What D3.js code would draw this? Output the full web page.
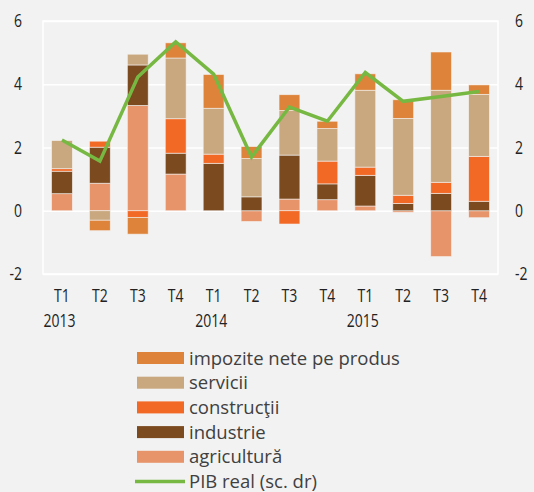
<!DOCTYPE html>
<meta charset="utf-8">
<style>
body { margin: 0; background: #f2f2f2; }
svg { display: block; }
.axis text { font-family: "Open Sans", sans-serif; font-size: 17.5px; fill: #222; }
.axis path, .axis line { display: none; }
.grid line { stroke: #fff; stroke-width: 1.5; }
.grid path { display: none; }
.legend text { font-family: "Open Sans", sans-serif; font-size: 18.5px; fill: #404040; }
</style>
<body>
<script src="https://d3js.org/d3.v7.min.js"></script>
<script>

var quarters = ["T1","T2","T3","T4","T1","T2","T3","T4","T1","T2","T3","T4"];
var years = ["2013","2014","2015"];

// contributions, pp
var agricultura = [0.54, 0.87, 3.33, 1.16, 0.00, -0.34, 0.37, 0.35, 0.15, -0.05, -1.45, -0.22];
var industrie   = [0.71, 1.14, 1.28, 0.66, 1.50, 0.44, 1.39, 0.50, 0.97, 0.23, 0.55, 0.30];
var constructii = [0.08, 0.19, -0.21, 1.09, 0.29, 0.00, -0.42, 0.72, 0.26, 0.26, 0.35, 1.42];
var servicii    = [0.89, -0.30, 0.34, 1.92, 1.45, 1.21, 1.41, 1.03, 2.43, 2.43, 2.91, 1.96];
var impozite    = [0.00, -0.33, -0.53, 0.48, 1.07, 0.38, 0.50, 0.23, 0.52, 0.59, 1.21, 0.30];
var pibReal     = [2.24, 1.57, 4.23, 5.34, 4.32, 1.70, 3.28, 2.83, 4.37, 3.46, 3.61, 3.77];

var yTicks = [-2, 0, 2, 4, 6];

var keys = ["agricultura", "industrie", "constructii", "servicii", "impozite"];
var colors = {
  agricultura: "#e8946a",
  industrie: "#7b4a1f",
  constructii: "#f26925",
  servicii: "#c9a77f",
  impozite: "#dd843a"
};
var legendItems = [
  {key: "impozite", label: "impozite nete pe produs"},
  {key: "servicii", label: "servicii"},
  {key: "constructii", label: "construcţii"},
  {key: "industrie", label: "industrie"},
  {key: "agricultura", label: "agricultură"}
];

var W = 534, H = 492;
var plot = {left: 43, right: 498, top: 21, bottom: 274};
var narrow = "scale(0.8,1)";   // condensed look for axis labels

var rows = quarters.map(function(q, i) {
  return {i: i, agricultura: agricultura[i], industrie: industrie[i],
    constructii: constructii[i], servicii: servicii[i], impozite: impozite[i]};
});

var svg = d3.select("body").append("svg")
    .attr("width", W)
    .attr("height", H);

var x = d3.scaleBand()
    .domain(d3.range(quarters.length))
    .range([plot.left, plot.right])
    .paddingInner(0.45)
    .paddingOuter(0.225);

var y = d3.scaleLinear()
    .domain([-2, 6])
    .range([plot.bottom, plot.top]);

// frame + gridlines
svg.append("rect")
    .attr("x", plot.left).attr("y", plot.top)
    .attr("width", plot.right - plot.left)
    .attr("height", plot.bottom - plot.top)
    .attr("fill", "none")
    .attr("stroke", "#fff")
    .attr("stroke-width", 1.5);

svg.append("g")
    .attr("class", "grid")
    .attr("transform", "translate(" + plot.left + ",0)")
    .call(d3.axisLeft(y).tickValues(yTicks).tickSize(-(plot.right - plot.left)).tickFormat(""));

var fmt = function(d) { return String(d); };

svg.append("g")
    .attr("class", "axis")
    .attr("transform", "translate(" + (plot.left - 21) + ",0)")
    .call(d3.axisLeft(y).tickValues(yTicks).tickSize(0).tickPadding(0).tickFormat(fmt))
  .selectAll("text")
    .attr("transform", narrow);

svg.append("g")
    .attr("class", "axis")
    .attr("transform", "translate(" + (plot.right + 17) + ",0)")
    .call(d3.axisRight(y).tickValues(yTicks).tickSize(0).tickPadding(0).tickFormat(fmt))
  .selectAll("text")
    .attr("transform", narrow);

// stacked bars
var series = d3.stack().keys(keys).offset(d3.stackOffsetDiverging)(rows);

svg.append("g")
  .selectAll("g")
  .data(series)
  .join("g")
    .attr("fill", function(d) { return colors[d.key]; })
  .selectAll("rect")
  .data(function(d) { return d.filter(function(p) { return p[1] !== p[0]; }); })
  .join("rect")
    .attr("x", function(d) { return x(d.data.i); })
    .attr("width", x.bandwidth())
    .attr("y", function(d) { return y(d[1]); })
    .attr("height", function(d) { return y(d[0]) - y(d[1]); })
    .attr("stroke", "#f7f7f7")
    .attr("stroke-opacity", 0.7)
    .attr("stroke-width", 0.8);

// PIB real line
var line = d3.line()
    .x(function(d, i) { return x(i) + x.bandwidth() / 2; })
    .y(function(d) { return y(d); });

svg.append("path")
    .datum(pibReal)
    .attr("d", line)
    .attr("fill", "none")
    .attr("stroke", "#77b843")
    .attr("stroke-width", 3.5)
    .attr("stroke-linejoin", "miter");

// x labels
var xl = svg.append("g").attr("class", "axis");
xl.selectAll(".q")
  .data(quarters)
  .join("g")
    .attr("class", "q")
    .attr("transform", function(d, i) { return "translate(" + (x(i) + x.bandwidth() / 2) + ",302)"; })
  .append("text")
    .attr("text-anchor", "middle")
    .attr("transform", narrow)
    .text(function(d) { return d; });

xl.selectAll(".yr")
  .data(years)
  .join("g")
    .attr("class", "yr")
    .attr("transform", function(d, i) { return "translate(" + (x(i * 4) - 8) + ",327)"; })
  .append("text")
    .attr("transform", narrow)
    .text(function(d) { return d; });

// legend
var lg = svg.append("g").attr("class", "legend");
var rowY = d3.scaleLinear().domain([0, 5]).range([358, 481.5]);

legendItems.forEach(function(item, i) {
  lg.append("rect")
      .attr("x", 137).attr("y", rowY(i) - 6)
      .attr("width", 47).attr("height", 12)
      .attr("fill", colors[item.key]);
  lg.append("text")
      .attr("x", 189).attr("y", rowY(i) + 6.5)
      .text(item.label);
});
lg.append("line")
    .attr("x1", 135).attr("x2", 185)
    .attr("y1", rowY(5)).attr("y2", rowY(5))
    .attr("stroke", "#77b843").attr("stroke-width", 3.5);
lg.append("text")
    .attr("x", 189).attr("y", rowY(5) + 6.5)
    .text("PIB real (sc. dr)");

</script>
